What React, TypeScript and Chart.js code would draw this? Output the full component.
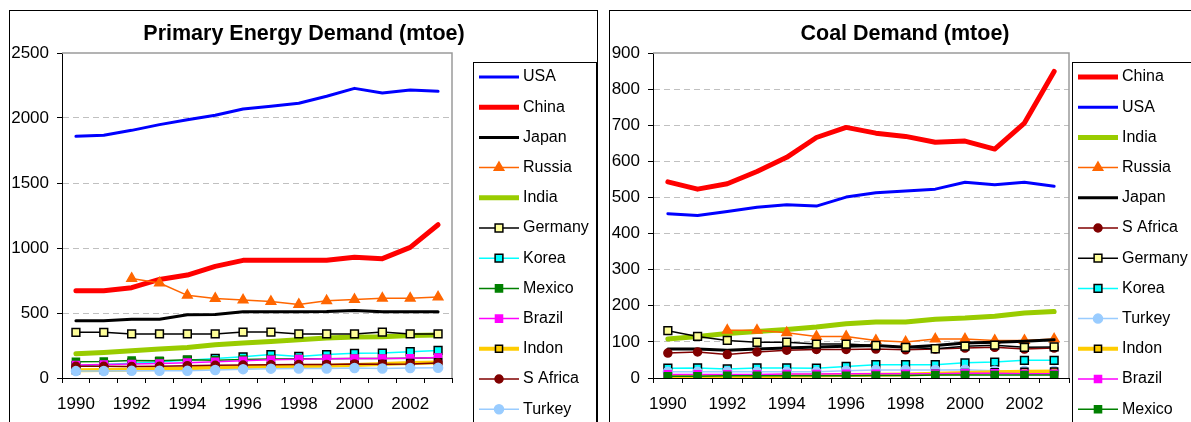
import React, { useEffect, useRef } from 'react';
import { Chart, registerables } from 'chart.js';

Chart.register(...registerables);

const FONT = '"Liberation Sans", Arial, sans-serif';

// Years on the category axis (only even years get a label)
const years = ['1990', '1991', '1992', '1993', '1994', '1995', '1996', '1997', '1998', '1999', '2000', '2001', '2002', '2003'];

// Primary energy demand, mtoe
const primaryUSA = [1859, 1867, 1905, 1949, 1987, 2021, 2069, 2090, 2113, 2167, 2228, 2192, 2215, 2205];
const primaryChina = [672, 672, 695, 758, 792, 859, 905, 905, 905, 905, 928, 918, 1005, 1179];
const primaryJapan = [440, 440, 452, 452, 486, 488, 510, 510, 510, 512, 520, 510, 510, 510];
const primaryRussia = [null, null, 766, 731, 636, 612, 600, 588, 566, 594, 603, 613, 613, 623];
const primaryIndia = [186, 196, 210, 223, 235, 256, 269, 281, 295, 307, 315, 318, 326, 331];
const primaryGermany = [351, 351, 339, 339, 339, 339, 353, 353, 339, 339, 339, 353, 339, 339];
const primaryKorea = [93, 103, 114, 125, 137, 150, 163, 180, 166, 180, 190, 192, 202, 212];
const primaryMexico = [125, 127, 135, 133, 140, 137, 142, 146, 148, 148, 150, 150, 152, 155];
const primaryBrazil = [100, 103, 108, 112, 118, 125, 133, 140, 145, 148, 150, 150, 152, 158];
const primaryIndon = [60, 62, 66, 70, 75, 80, 85, 90, 92, 95, 100, 108, 115, 120];
const primarySAfrica = [90, 90, 88, 90, 95, 98, 100, 102, 103, 104, 108, 106, 108, 115];
const primaryTurkey = [53, 54, 55, 56, 55, 62, 68, 72, 73, 73, 77, 73, 76, 78];

// Coal demand, mtoe
const coalChina = [543, 523, 538, 572, 611, 666, 694, 678, 669, 653, 656, 634, 706, 849];
const coalUSA = [455, 450, 461, 473, 480, 476, 501, 513, 518, 523, 542, 535, 542, 531];
const coalIndia = [108, 115, 123, 129, 134, 141, 150, 155, 155, 163, 166, 171, 180, 184];
const coalRussia = [null, null, 132, 132, 125, 115, 115, 104, 100, 108, 108, 104, 104, 108];
const coalJapan = [80, 80, 77, 80, 83, 86, 88, 90, 85, 90, 97, 99, 102, 106];
const coalSAfrica = [69, 72, 65, 72, 77, 79, 79, 80, 78, 80, 83, 85, 80, 83];
const coalGermany = [131, 115, 104, 99, 99, 94, 94, 90, 85, 81, 88, 91, 85, 86];
const coalKorea = [27, 28, 25, 28, 28, 27, 32, 37, 37, 37, 42, 44, 49, 49];
const coalTurkey = [17, 17, 18, 17, 17, 17, 20, 22, 22, 22, 23, 20, 20, 20];
const coalIndon = [3, 4, 5, 5, 6, 7, 8, 9, 10, 12, 14, 16, 17, 18];
const coalBrazil = [10, 10, 10, 10, 11, 11, 12, 12, 12, 12, 13, 13, 12, 12];
const coalMexico = [5, 5, 6, 6, 6, 6, 6, 7, 7, 8, 8, 8, 8, 8];

type Style = {
  color: string;
  width: number;
  marker?: 'triangle' | 'rect' | 'circle';
  fill?: string;
  edge?: string;
  radius?: number;
};

// Line and marker look of each country
const styles: Record<string, Style> = {
  USA: { color: '#0000FF', width: 3 },
  China: { color: '#FF0000', width: 5 },
  Japan: { color: '#000000', width: 3 },
  Russia: { color: '#FF6600', width: 1.5, marker: 'triangle', fill: '#FF6600', edge: '#FF6600', radius: 5.5 },
  India: { color: '#99CC00', width: 5 },
  Germany: { color: '#000000', width: 1.5, marker: 'rect', fill: '#FFFF99', edge: '#000000', radius: 5.5 },
  Korea: { color: '#00FFFF', width: 1.5, marker: 'rect', fill: '#00FFFF', edge: '#000000', radius: 5.5 },
  Mexico: { color: '#008000', width: 1.5, marker: 'rect', fill: '#008000', edge: '#008000', radius: 5 },
  Brazil: { color: '#FF00FF', width: 1.5, marker: 'rect', fill: '#FF00FF', edge: '#FF00FF', radius: 5 },
  Indon: { color: '#FFCC00', width: 4, marker: 'rect', fill: '#FFCC00', edge: '#000000', radius: 5 },
  'S Africa': { color: '#800000', width: 1.5, marker: 'circle', fill: '#800000', edge: '#800000', radius: 4 },
  Turkey: { color: '#99CCFF', width: 1.5, marker: 'circle', fill: '#99CCFF', edge: '#99CCFF', radius: 4.5 },
};

const primarySeries: [string, (number | null)[]][] = [
  ['USA', primaryUSA],
  ['China', primaryChina],
  ['Japan', primaryJapan],
  ['Russia', primaryRussia],
  ['India', primaryIndia],
  ['Germany', primaryGermany],
  ['Korea', primaryKorea],
  ['Mexico', primaryMexico],
  ['Brazil', primaryBrazil],
  ['Indon', primaryIndon],
  ['S Africa', primarySAfrica],
  ['Turkey', primaryTurkey],
];

const coalSeries: [string, (number | null)[]][] = [
  ['China', coalChina],
  ['USA', coalUSA],
  ['India', coalIndia],
  ['Russia', coalRussia],
  ['Japan', coalJapan],
  ['S Africa', coalSAfrica],
  ['Germany', coalGermany],
  ['Korea', coalKorea],
  ['Turkey', coalTurkey],
  ['Indon', coalIndon],
  ['Brazil', coalBrazil],
  ['Mexico', coalMexico],
];

function buildDatasets(series: [string, (number | null)[]][]) {
  const n = series.length;
  return series.map(([label, data], i) => {
    const s = styles[label];
    return {
      label,
      data,
      borderColor: s.color,
      borderWidth: s.width,
      borderJoinStyle: 'round' as const,
      borderCapStyle: 'round' as const,
      backgroundColor: s.fill || s.color,
      pointStyle: s.marker || 'circle',
      pointRadius: s.marker ? s.radius : 0,
      pointHoverRadius: s.marker ? s.radius : 0,
      pointBackgroundColor: s.fill || s.color,
      pointBorderColor: s.edge || s.color,
      pointBorderWidth: 1.5,
      tension: 0,
      fill: false,
      spanGaps: false,
      // later series sit on top of earlier ones
      order: n - i,
    };
  });
}

function drawMarker(ctx: CanvasRenderingContext2D, kind: string, x: number, y: number, r: number, fill: string, edge: string) {
  ctx.save();
  ctx.fillStyle = fill;
  ctx.strokeStyle = edge;
  ctx.lineWidth = 1.5;
  ctx.beginPath();
  if (kind === 'rect') {
    const h = r * Math.SQRT1_2;
    ctx.rect(x - h, y - h, 2 * h, 2 * h);
  } else if (kind === 'triangle') {
    for (let k = 0; k < 3; k++) {
      const a = (k * 2 * Math.PI) / 3;
      const px = x + Math.sin(a) * r;
      const py = y - Math.cos(a) * r;
      if (k === 0) ctx.moveTo(px, py);
      else ctx.lineTo(px, py);
    }
    ctx.closePath();
  } else {
    ctx.arc(x, y, r, 0, Math.PI * 2);
  }
  ctx.fill();
  ctx.stroke();
  ctx.restore();
}

type PanelOpts = {
  title: string;
  titleX: number;
  frameW: number;
  legendX: number;
  legendW: number;
};

const panelPlugin = {
  id: 'panel',
  beforeDraw(chart: any, _args: any, opts: PanelOpts) {
    const { ctx, width, height } = chart;
    ctx.save();
    ctx.fillStyle = '#ffffff';
    ctx.fillRect(0, 0, width, height);
    ctx.strokeStyle = '#000000';
    ctx.lineWidth = 1;
    ctx.strokeRect(9.5, 10.5, opts.frameW, 460);
    ctx.fillStyle = '#000000';
    ctx.font = `bold 21.5px ${FONT}`;
    ctx.textAlign = 'center';
    ctx.textBaseline = 'middle';
    ctx.fillText(opts.title, opts.titleX, 34);
    ctx.restore();
  },
  beforeDatasetsDraw(chart: any) {
    const { ctx, chartArea } = chart;
    ctx.save();
    ctx.strokeStyle = '#9a9a9a';
    ctx.lineWidth = 1.5;
    ctx.beginPath();
    ctx.moveTo(chartArea.left, chartArea.top);
    ctx.lineTo(chartArea.right, chartArea.top);
    ctx.lineTo(chartArea.right, chartArea.bottom);
    ctx.stroke();
    ctx.restore();
  },
  afterDraw(chart: any, _args: any, opts: PanelOpts) {
    const { ctx } = chart;
    const top = 62;
    ctx.save();
    ctx.fillStyle = '#ffffff';
    ctx.fillRect(opts.legendX, top, opts.legendW, 400);
    ctx.strokeStyle = '#000000';
    ctx.lineWidth = 1;
    ctx.strokeRect(opts.legendX + 0.5, top + 0.5, opts.legendW, 400);
    ctx.font = `16px ${FONT}`;
    ctx.textBaseline = 'middle';
    ctx.textAlign = 'left';
    chart.data.datasets.forEach((ds: any, i: number) => {
      const cy = top + 15 + i * 30.2;
      const x0 = opts.legendX + 6;
      const x1 = opts.legendX + 46;
      ctx.strokeStyle = ds.borderColor;
      ctx.lineWidth = ds.borderWidth;
      ctx.lineCap = 'butt';
      ctx.beginPath();
      ctx.moveTo(x0, cy);
      ctx.lineTo(x1, cy);
      ctx.stroke();
      if (ds.pointRadius > 0) {
        drawMarker(ctx, ds.pointStyle, (x0 + x1) / 2, cy, ds.pointRadius, ds.pointBackgroundColor, ds.pointBorderColor);
      }
      ctx.fillStyle = '#000000';
      ctx.fillText(ds.label, opts.legendX + 50, cy);
    });
    ctx.restore();
  },
};

type ChartProps = {
  series: [string, (number | null)[]][];
  yMax: number;
  yStep: number;
  yWidth: number;
  padRight: number;
  width: number;
  left: number;
  panel: PanelOpts;
};

function DemandChart({ series, yMax, yStep, yWidth, padRight, width, left, panel }: ChartProps) {
  const ref = useRef<HTMLCanvasElement | null>(null);

  useEffect(() => {
    if (!ref.current) return;
    const chart = new Chart(ref.current, {
      type: 'line',
      data: { labels: years, datasets: buildDatasets(series) as any },
      plugins: [panelPlugin as any],
      options: {
        responsive: false,
        animation: false,
        devicePixelRatio: 1,
        layout: { padding: { left: 0, right: padRight, top: 53, bottom: 0 } },
        plugins: {
          legend: { display: false },
          title: { display: false },
          tooltip: { enabled: false },
          panel: panel,
        } as any,
        scales: {
          x: {
            type: 'category',
            offset: true,
            grid: {
              offset: true,
              drawOnChartArea: false,
              drawTicks: true,
              tickLength: 5,
              color: '#000000',
            },
            border: { display: true, color: '#000000', width: 1 },
            ticks: {
              autoSkip: false,
              maxRotation: 0,
              minRotation: 0,
              padding: 11,
              color: '#000000',
              font: { family: FONT, size: 17 },
              callback: function (this: any, value: any, index: number) {
                return index % 2 === 0 ? this.getLabelForValue(value) : '';
              },
            },
            afterFit: (scale: any) => {
              scale.height = 44;
            },
          },
          y: {
            min: 0,
            max: yMax,
            grid: {
              drawTicks: true,
              tickLength: 5,
              tickColor: '#000000',
              lineWidth: 1,
              color: (c: any) =>
                c.tick && (c.tick.value === 0 || c.tick.value === yMax) ? 'rgba(0,0,0,0)' : '#c0c0c0',
            },
            border: { display: true, color: '#000000', width: 1, dash: [6, 4] },
            ticks: {
              stepSize: yStep,
              padding: 8,
              color: '#000000',
              font: { family: FONT, size: 17 },
              callback: (value: any) => String(value),
            },
            afterFit: (scale: any) => {
              scale.width = yWidth;
            },
          },
        },
      } as any,
    });
    return () => chart.destroy();
  }, []);

  return (
    <canvas
      ref={ref}
      width={width}
      height={422}
      style={{ position: 'absolute', left, top: 0, width, height: 422 }}
    />
  );
}

export default function App() {
  return (
    <div style={{ position: 'absolute', left: 0, top: 0, width: 1191, height: 422, background: '#ffffff', overflow: 'hidden' }}>
      <DemandChart
        series={primarySeries}
        yMax={2500}
        yStep={500}
        yWidth={62}
        padRight={148}
        width={600}
        left={0}
        panel={{ title: 'Primary Energy Demand (mtoe)', titleX: 304, frameW: 588, legendX: 473, legendW: 123 }}
      />
      <DemandChart
        series={coalSeries}
        yMax={900}
        yStep={100}
        yWidth={53}
        padRight={122}
        width={591}
        left={600}
        panel={{ title: 'Coal Demand (mtoe)', titleX: 305, frameW: 600, legendX: 472, legendW: 200 }}
      />
    </div>
  );
}
